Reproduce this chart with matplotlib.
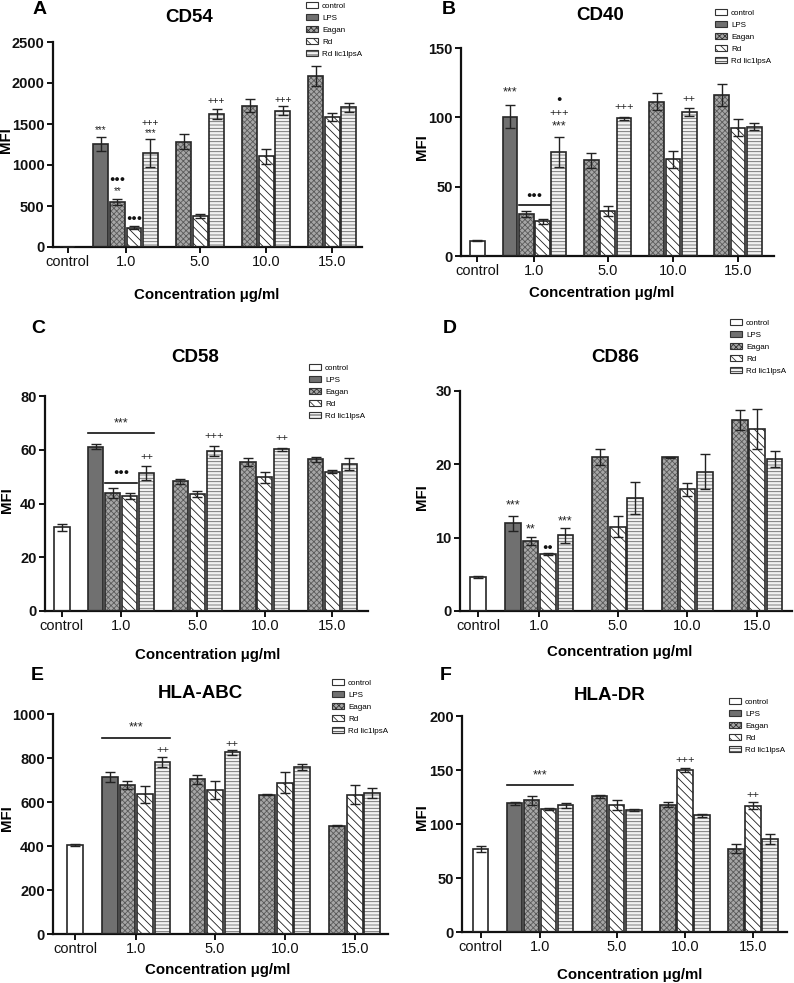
import matplotlib
matplotlib.use("Agg")
import matplotlib.pyplot as plt
from matplotlib.patches import Patch

plt.rcParams["font.family"] = ["Liberation Sans", "DejaVu Sans"]
plt.rcParams["hatch.linewidth"] = 0.6

W, H = 794, 983

# bar slots: control, LPS, then Eagan / Rd / Rd lic1lpsA per concentration
groups = ["control", "1.0", "5.0", "10.0", "15.0"]
series = ["control", "LPS", "Eagan", "Rd", "Rd lic1lpsA"]

# ---- data (MFI, mean and error) ----
cd54_ctrl, cd54_ctrl_err = 0, 0
cd54_lps, cd54_lps_err = 1260, 85
cd54_eagan = [549, 1285, 1724, 2085]
cd54_eagan_err = [40, 95, 80, 122]
cd54_rd = [236, 378, 1106, 1589]
cd54_rd_err = [15, 20, 90, 50]
cd54_lic = [1146, 1622, 1663, 1707]
cd54_lic_err = [175, 65, 55, 55]

cd40_ctrl, cd40_ctrl_err = 11.1, 0.5
cd40_lps, cd40_lps_err = 100.6, 8.3
cd40_eagan = [30.1, 69.1, 111.2, 116.3]
cd40_eagan_err = [2, 5.5, 6, 8]
cd40_rd = [25.0, 32.3, 69.8, 92.5]
cd40_rd_err = [1.8, 3.5, 6, 6]
cd40_lic = [74.9, 99.4, 103.8, 93.2]
cd40_lic_err = [11, 1, 2.7, 2.5]

cd58_ctrl, cd58_ctrl_err = 31.1, 1.2
cd58_lps, cd58_lps_err = 61.1, 0.9
cd58_eagan = [43.9, 48.3, 55.5, 56.4]
cd58_eagan_err = [1.7, 0.9, 1.5, 0.9]
cd58_rd = [42.7, 43.6, 49.7, 51.9]
cd58_rd_err = [1.1, 1.1, 2.2, 0.5]
cd58_lic = [51.4, 59.4, 60.1, 54.7]
cd58_lic_err = [2.7, 1.9, 0.7, 2.4]

cd86_ctrl, cd86_ctrl_err = 4.64, 0.2
cd86_lps, cd86_lps_err = 11.95, 1.0
cd86_eagan = [9.5, 21.0, 20.95, 26.0]
cd86_eagan_err = [0.55, 1.07, 0.1, 1.35]
cd86_rd = [7.73, 11.5, 16.6, 24.8]
cd86_rd_err = [0.15, 1.4, 0.85, 2.75]
cd86_lic = [10.3, 15.4, 19.0, 20.7]
cd86_lic_err = [1.0, 2.15, 2.35, 1.1]

abc_ctrl, abc_ctrl_err = 406, 4
abc_lps, abc_lps_err = 712, 23
abc_eagan = [676, 703, 633, 492]
abc_eagan_err = [18, 20, 3, 3]
abc_rd = [635, 655, 688, 634]
abc_rd_err = [38, 40, 48, 42]
abc_lic = [782, 826, 760, 641]
abc_lic_err = [24, 12, 15, 22]

dr_ctrl, dr_ctrl_err = 76.7, 2.7
dr_lps, dr_lps_err = 119.3, 1.5
dr_eagan = [121.8, 125.5, 118, 77.3]
dr_eagan_err = [4.3, 1.8, 2, 4]
dr_rd = [114, 117.5, 150, 116.8]
dr_rd_err = [1, 4.5, 2.2, 3.2]
dr_lic = [117.5, 112.8, 108, 86]
dr_lic_err = [2.3, 1, 1.5, 4.6]

# significance marks: (series, group index, text, y)
cd54_marks = [("LPS", 0, "***", 1430), ("Eagan", 0, "●●●", 820), ("Eagan", 0, "**", 680),
              ("Rd", 0, "●●●", 345), ("Rd lic1lpsA", 0, "***", 1390),
              ("Rd lic1lpsA", 0, "+++", 1512), ("Rd lic1lpsA", 1, "+++", 1776),
              ("Rd lic1lpsA", 2, "+++", 1797)]
cd40_marks = [("LPS", 0, "***", 118), ("Rd lic1lpsA", 0, "***", 93.3),
              ("Rd lic1lpsA", 0, "+++", 103.4), ("Rd lic1lpsA", 0, "●", 113),
              ("Rd lic1lpsA", 1, "+++", 107.4), ("Rd lic1lpsA", 2, "++", 113.2)]
cd58_marks = [("Rd lic1lpsA", 0, "++", 57.4), ("Rd lic1lpsA", 1, "+++", 65.1),
              ("Rd lic1lpsA", 2, "++", 64.5)]
cd86_marks = [("LPS", 0, "***", 14.4), ("Eagan", 0, "**", 11.1), ("Rd", 0, "●●", 8.6),
              ("Rd lic1lpsA", 0, "***", 12.2)]
abc_marks = [("Rd lic1lpsA", 0, "++", 838), ("Rd lic1lpsA", 1, "++", 864)]
dr_marks = [("Rd", 2, "+++", 159), ("Rd", 3, "++", 127)]

# bracket lines over the 1.0 group: (first series, last series, y line, text)
cd54_lines = []
cd40_lines = [("Eagan", "Rd", 36.8, "●●●")]
cd58_lines = [("LPS", "Rd lic1lpsA", 66.2, "***"), ("Eagan", "Rd", 47.8, "●●●")]
cd86_lines = []
abc_lines = [("LPS", "Rd lic1lpsA", 892, "***")]
dr_lines = [("LPS", "Rd lic1lpsA", 136.4, "***")]

# slot positions
ctrl_x = 0
lps_x = 2
pos = {"Eagan": [3, 7, 11, 15], "Rd": [4, 8, 12, 16], "Rd lic1lpsA": [5, 9, 13, 17]}
group_ticks = [0, 3.5, 8, 12, 16]

styles = {
    "control": dict(face="white", hatch=None, hc=None),
    "LPS": dict(face="#707070", hatch=None, hc=None),
    "Eagan": dict(face="#a6a6a6", hatch="xxxxxx", hc="#5a5a5a"),
    "Rd": dict(face="white", hatch="\\\\\\\\", hc="#1e1e1e"),
    "Rd lic1lpsA": dict(face="#f2f2f2", hatch="-----", hc="#6a6a6a"),
}
EDGE = "#262626"
BW = 0.9


def draw_bars(ax, xs, ys, errs, name):
    st = styles[name]
    if st["hatch"]:
        ax.bar(xs, ys, BW, color=st["face"], edgecolor=st["hc"], hatch=st["hatch"], lw=0, zorder=2)
    else:
        ax.bar(xs, ys, BW, color=st["face"], lw=0, zorder=2)
    ax.bar(xs, ys, BW, fill=False, edgecolor=EDGE, lw=1.2, zorder=3)
    ax.errorbar(xs, ys, yerr=errs, fmt="none", ecolor="#222222", elinewidth=1.0,
                capsize=3.5, capthick=1.0, zorder=4)


def xpos(name, g):
    return lps_x if name == "LPS" else pos[name][g]


def mark_text(ax, x, y, txt, small):
    if "●" in txt:
        ax.text(x, y, txt, ha="center", va="center", fontsize=6.5, color="#111111", zorder=5)
    elif "*" in txt:
        ax.text(x, y, txt, ha="center", va="center", fontsize=7 if small else 9,
                color="#222222", zorder=5)
    else:
        ax.text(x, y, txt, ha="center", va="center", fontsize=7 if small else 8,
                color="#222222", zorder=5)


def panel(box, xlim, ylim, yticks, letter, lpos, title, tpos, xlab_pos, ylab_pos, leg_pos,
          ctrl, ctrl_err, lps, lps_err, eagan, eagan_err, rd, rd_err, lic, lic_err,
          marks, lines, small=False):
    l, r, t, b = box
    ax = fig.add_axes([l / W, 1 - b / H, (r - l) / W, (b - t) / H])
    draw_bars(ax, [ctrl_x], [ctrl], [ctrl_err], "control")
    draw_bars(ax, [lps_x], [lps], [lps_err], "LPS")
    draw_bars(ax, pos["Eagan"], eagan, eagan_err, "Eagan")
    draw_bars(ax, pos["Rd"], rd, rd_err, "Rd")
    draw_bars(ax, pos["Rd lic1lpsA"], lic, lic_err, "Rd lic1lpsA")

    for name, g, txt, y in marks:
        mark_text(ax, xpos(name, g), y, txt, small)
    span = ylim[1] - ylim[0]
    for a, c, y, txt in lines:
        x0 = xpos(a, 0) - BW / 2
        x1 = xpos(c, 0) + BW / 2
        ax.plot([x0, x1], [y, y], color="#111111", lw=1.2, zorder=5, clip_on=False)
        mark_text(ax, (x0 + x1) / 2, y + span * 0.045, txt, small)

    ax.set_xlim(*xlim)
    ax.set_ylim(*ylim)
    ax.set_yticks(yticks)
    ax.set_xticks(group_ticks)
    ax.set_xticklabels(groups, fontsize=10.5)
    for lab in ax.get_yticklabels():
        lab.set_fontweight("bold")
        lab.set_fontsize(10.5)
    for s in ["top", "right"]:
        ax.spines[s].set_visible(False)
    for s in ["left", "bottom"]:
        ax.spines[s].set_linewidth(1.6)
        ax.spines[s].set_color("#111111")
    ax.tick_params(direction="out", length=4, width=1.4, pad=2, colors="#111111")

    fig.text(lpos[0] / W, 1 - lpos[1] / H, letter, fontsize=14, fontweight="bold",
             ha="center", va="center")
    fig.text(tpos[0] / W, 1 - tpos[1] / H, title, fontsize=13.5, fontweight="bold",
             ha="center", va="center")
    fig.text(xlab_pos[0] / W, 1 - xlab_pos[1] / H, "Concentration μg/ml", fontsize=10.8,
             fontweight="bold", ha="center", va="center")
    fig.text(ylab_pos[0] / W, 1 - ylab_pos[1] / H, "MFI", fontsize=10.8, fontweight="bold",
             ha="center", va="center", rotation=90)

    handles = []
    for name in series:
        st = styles[name]
        handles.append(Patch(facecolor=st["face"], edgecolor="#333333", hatch=st["hatch"], lw=0.8))
    ax.legend(handles, series, loc="upper left", bbox_to_anchor=(leg_pos[0] / W, 1 - leg_pos[1] / H),
              bbox_transform=fig.transFigure, frameon=False, fontsize=5.8, handlelength=1.5,
              handleheight=0.7, labelspacing=0.55, borderpad=0, borderaxespad=0, handletextpad=0.5)
    return ax


fig = plt.figure(figsize=(W / 100, H / 100), dpi=100)

panel((53, 362, 42, 247), (-0.9, 17.8), (0, 2500), range(0, 2501, 500), "A", (40, 9), "CD54", (189, 17),
      (207, 295), (6, 140), (306, 2),
      cd54_ctrl, cd54_ctrl_err, cd54_lps, cd54_lps_err, cd54_eagan, cd54_eagan_err,
      cd54_rd, cd54_rd_err, cd54_lic, cd54_lic_err, cd54_marks, cd54_lines, small=True)

panel((461, 774, 48, 256), (-1.0, 18.2), (0, 150), range(0, 151, 50), "B", (449, 9), "CD40", (600, 15),
      (602, 293), (422, 147), (715, 9),
      cd40_ctrl, cd40_ctrl_err, cd40_lps, cd40_lps_err, cd40_eagan, cd40_eagan_err,
      cd40_rd, cd40_rd_err, cd40_lic, cd40_lic_err, cd40_marks, cd40_lines)

panel((45, 368, 396, 611), (-1.0, 18.1), (0, 80), range(0, 81, 20), "C", (38, 329), "CD58", (195, 357),
      (208, 655), (7, 500), (309, 364),
      cd58_ctrl, cd58_ctrl_err, cd58_lps, cd58_lps_err, cd58_eagan, cd58_eagan_err,
      cd58_rd, cd58_rd_err, cd58_lic, cd58_lic_err, cd58_marks, cd58_lines)

panel((460, 792, 391, 611), (-1.05, 18.0), (0, 30), range(0, 31, 10), "D", (450, 329), "CD86", (615, 358),
      (620, 652), (422, 497), (730, 319),
      cd86_ctrl, cd86_ctrl_err, cd86_lps, cd86_lps_err, cd86_eagan, cd86_eagan_err,
      cd86_rd, cd86_rd_err, cd86_lic, cd86_lic_err, cd86_marks, cd86_lines)

panel((53, 388, 714, 934), (-1.26, 17.9), (0, 1000), range(0, 1001, 200), "E", (37, 676), "HLA-ABC", (200, 693),
      (218, 970), (7, 818), (332, 679),
      abc_ctrl, abc_ctrl_err, abc_lps, abc_lps_err, abc_eagan, abc_eagan_err,
      abc_rd, abc_rd_err, abc_lic, abc_lic_err, abc_marks, abc_lines)

panel((462, 787, 716, 932), (-1.1, 18.0), (0, 200), range(0, 201, 50), "F", (446, 676), "HLA-DR", (610, 695),
      (630, 975), (422, 817), (729, 698),
      dr_ctrl, dr_ctrl_err, dr_lps, dr_lps_err, dr_eagan, dr_eagan_err,
      dr_rd, dr_rd_err, dr_lic, dr_lic_err, dr_marks, dr_lines)

fig.savefig("out.png", dpi=100)
